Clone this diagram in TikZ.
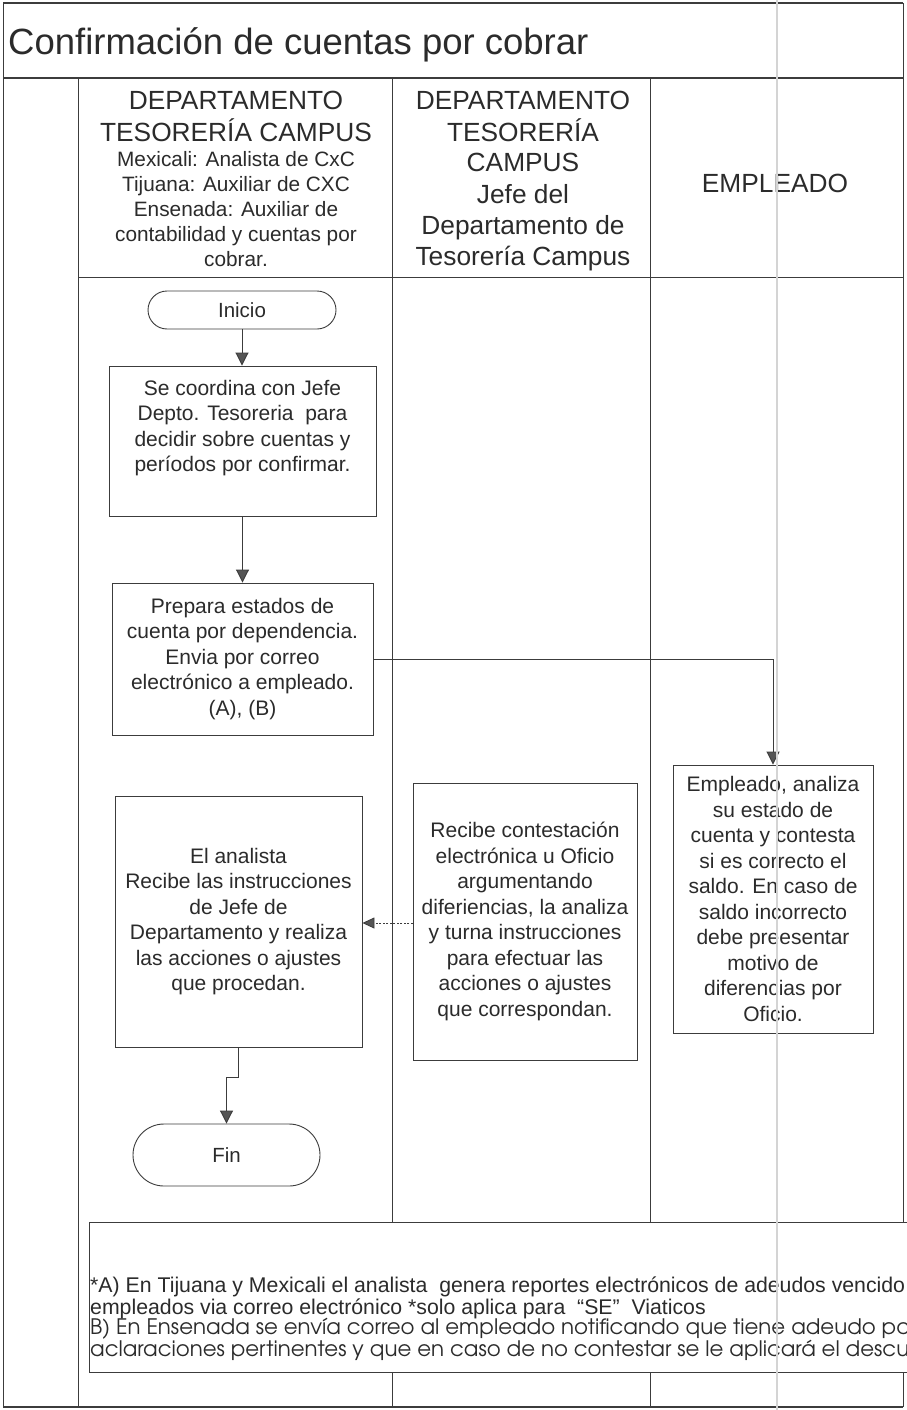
\documentclass[tikz,border=0pt]{standalone}
\usepackage{fontspec}
\setmainfont{Liberation Sans}
\newfontfamily\gothicfont{TeX Gyre Adventor}
\usepackage{graphicx}
\usetikzlibrary{arrows.meta}
\definecolor{ink}{HTML}{2B2B2B}
\definecolor{rule}{HTML}{3C3C3C}
\definecolor{tipgray}{HTML}{555555}
\definecolor{fold}{HTML}{D4D4D4}
\newcommand\fs[2]{\fontsize{#1}{#2}\selectfont}

\begin{document}
\begin{tikzpicture}[x=1pt,y=-1pt,
  lane/.style={draw=rule, line width=1pt},
  heavy/.style={draw=rule, line width=1.8pt},
  proc/.style={draw=rule, line width=0.9pt, fill=white, inner sep=0pt,
    text=ink, align=center, font=\fs{21}{25.5}},
  term/.style={proc, font=\fs{20.5}{24}},
  plain/.style={inner sep=0pt, text=ink, align=center, font=\fs{21}{25.5}},
  hdrbig/.style={anchor=base, inner sep=0pt, text=ink, font=\fs{26.3}{31}},
  hdrsmall/.style={anchor=base, inner sep=0pt, text=ink, font=\fs{20.8}{25}},
  flow/.style={draw=rule, line width=0.9pt,
    -{Triangle[length=13pt,width=13pt,fill=tipgray]}},
  reply/.style={draw=rule, line width=0.8pt, dash pattern=on 2pt off 1.5pt,
    -{Triangle[length=12pt,width=11pt,fill=tipgray]}},
]
\useasboundingbox (0,0) rectangle (907,1410);
\clip (0,0) rectangle (907,1410);
\fill[white] (0,0) rectangle (907,1410);

% frame and swimlanes
\draw[heavy] (3,3) -- (903,3);
\draw[lane] (3,3) -- (3,1407);
\draw[lane] (903,3) -- (903,1407);
\draw[heavy] (3,78) -- (903,78);
\draw[lane] (78,78) -- (78,1407);
\draw[lane] (392,78) -- (392,1407);
\draw[lane] (650,78) -- (650,1407);
\draw[lane] (78,277) -- (903,277);
\draw[heavy] (3,1407) -- (903,1407);

% title
\node[anchor=base west, inner sep=0pt, text=ink, font=\fs{36.5}{40}] (title) at (8,55)
  {Confirmación de cuentas por cobrar};

% lane headers
\node[hdrbig]   (h1a) at (236,110) {DEPARTAMENTO};
\node[hdrbig]   (h1b) at (236,141) {TESORERÍA CAMPUS};
\node[hdrsmall] (h1c) at (236,166) {Mexicali: Analista de CxC};
\node[hdrsmall] (h1d) at (236,191) {Tijuana: Auxiliar de CXC};
\node[hdrsmall] (h1e) at (236,216) {Ensenada: Auxiliar de};
\node[hdrsmall] (h1f) at (236,241) {contabilidad y cuentas por};
\node[hdrsmall] (h1g) at (236,266) {cobrar.};

\node[hdrbig] (h2a) at (523,110) {DEPARTAMENTO};
\node[hdrbig] (h2b) at (523,141) {TESORERÍA};
\node[hdrbig] (h2c) at (523,171) {CAMPUS};
\node[hdrbig] (h2d) at (523,203) {Jefe del};
\node[hdrbig] (h2e) at (523,234) {Departamento de};
\node[hdrbig] (h2f) at (523,265) {Tesorería Campus};

\node[hdrbig] (h3a) at (775,192) {EMPLEADO};

% process steps
\node[term, rounded corners=19pt, minimum width=188pt, minimum height=38pt]
  (inicio) at (242,310) {Inicio};
\node[proc, minimum width=267pt, minimum height=150pt] (coord) at (242.5,441) {};
\node[plain] (coordtxt) at (242.5,428)
  {Se coordina con Jefe\\Depto. Tesoreria\ \ para\\decidir sobre cuentas y\\períodos por confirmar.};
\node[proc, minimum width=261pt, minimum height=152pt] (prepara) at (242.5,659)
  {Prepara estados de\\cuenta por dependencia.\\Envia por correo\\electrónico a empleado.\\(A), (B)};
\node[proc, minimum width=200pt, minimum height=268pt] (empleado) at (773,899)
  {Empleado, analiza\\su estado de\\cuenta y contesta\\si es correcto el\\saldo. En caso de\\saldo incorrecto\\debe preesentar\\motivo de\\diferencias por\\Oficio.};
\node[proc, minimum width=224pt, minimum height=277pt] (recibe) at (525,921.5)
  {Recibe contestación\\electrónica u Oficio\\argumentando\\diferiencias, la analiza\\y turna instrucciones\\para efectuar las\\acciones o ajustes\\que correspondan.};
\node[proc, minimum width=247pt, minimum height=251pt] (analista) at (238.5,921.5)
  {El analista\\Recibe las instrucciones\\de Jefe de\\Departamento y realiza\\las acciones o ajustes\\que procedan.};
\node[term, rounded corners=31pt, minimum width=187pt, minimum height=62pt]
  (fin) at (226.5,1155) {Fin};

% connectors
\draw[flow] (inicio.south) -- (inicio.south |- coord.north);
\draw[flow] (coord.south) -- (prepara.north);
\draw[flow] (prepara.east) -| (empleado.north);
\draw[reply] (recibe.west |- 0,923) -- (analista.east |- 0,923);
\draw[flow] (analista.south) -- ++(0,30) -| (fin.north);

% notes
\node[draw=rule, line width=0.9pt, fill=white, anchor=north west, inner sep=0pt,
  minimum width=900pt, minimum height=150pt] (notes) at (89,1222) {};
\node[anchor=base west, inner sep=0pt, text=ink] (noteA) at (90,1292)
  {\resizebox{815pt}{!}{\fs{20}{20}\begin{tabular}[t]{@{}l@{}}
   *A) En Tijuana y Mexicali el analista\ \ genera reportes electrónicos de adeudos vencido\\
   empleados via correo electrónico *solo aplica para\ \ “SE”\ \ Viaticos
  \end{tabular}}};
\node[anchor=base west, inner sep=0pt, text=ink] (noteB) at (90,1334)
  {\resizebox{820pt}{!}{\gothicfont\fs{20}{20}\begin{tabular}[t]{@{}l@{}}
   B) En Ensenada se envía correo al empleado notificando que tiene adeudo po\\
   aclaraciones pertinentes y que en caso de no contestar se le aplicará el descu
  \end{tabular}}};

% paper fold
\draw[fold, line width=2pt] (777,0) -- (777,1410);
\end{tikzpicture}
\end{document}
